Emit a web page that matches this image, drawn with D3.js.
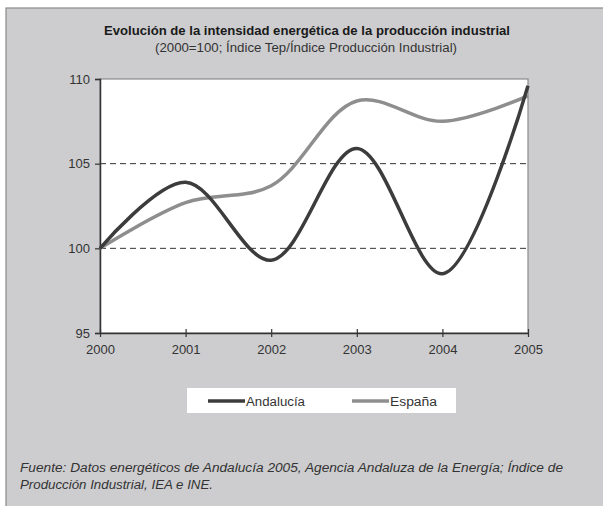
<!DOCTYPE html>
<html>
<head>
<meta charset="utf-8">
<script src="https://cdn.jsdelivr.net/npm/d3@7"></script>
<style>
  body { margin: 0; background: #fff; }
  text { font-family: "Liberation Sans", Arial, sans-serif; }
</style>
</head>
<body>
<script>
// Evolución de la intensidad energética (2000=100)
var years = [2000, 2001, 2002, 2003, 2004, 2005];
var andalucia = [100, 103.9, 99.3, 105.9, 98.5, 109.6];
var espana = [100, 102.7, 103.7, 108.7, 107.5, 109.0];
var yTicks = [95, 100, 105, 110];
var gridValues = [100, 105];

var svgWidth = 603, svgHeight = 506;
var margin = { top: 79, right: 75, bottom: 173, left: 100 };
var width = 528 - margin.left;
var height = 333 - margin.top;

var svg = d3.select("body").append("svg")
  .attr("width", svgWidth)
  .attr("height", svgHeight);

// grey panel
svg.append("rect")
  .attr("x", 6).attr("y", 8)
  .attr("width", svgWidth).attr("height", svgHeight)
  .attr("fill", "#cdcdcf")
  .attr("stroke", "#8a8a8a")
  .attr("stroke-width", 1.2);

svg.append("text")
  .attr("x", 307).attr("y", 35)
  .attr("text-anchor", "middle")
  .style("font-size", "12.5px").style("font-weight", "bold")
  .attr("fill", "#1a1a1a")
  .attr("textLength", 406).attr("lengthAdjust", "spacingAndGlyphs")
  .text("Evolución de la intensidad energética de la producción industrial");

svg.append("text")
  .attr("x", 306).attr("y", 52)
  .attr("text-anchor", "middle")
  .style("font-size", "12.5px")
  .attr("fill", "#333")
  .attr("textLength", 302).attr("lengthAdjust", "spacingAndGlyphs")
  .text("(2000=100; Índice Tep/Índice Producción Industrial)");

var chartGroup = svg.append("g")
  .attr("transform", `translate(${margin.left}, ${margin.top})`);

var x = d3.scaleLinear().domain([2000, 2005]).range([0, width]);
var y = d3.scaleLinear().domain([95, 110]).range([height, 0]);

chartGroup.append("rect")
  .attr("width", width).attr("height", height)
  .attr("fill", "#fff")
  .attr("stroke", "#8a8a8a").attr("stroke-width", 1.2);

chartGroup.selectAll(".grid")
  .data(gridValues)
  .enter().append("line")
  .attr("x1", 0).attr("x2", width)
  .attr("y1", d => y(d)).attr("y2", d => y(d))
  .attr("stroke", "#333").attr("stroke-width", 1)
  .attr("stroke-dasharray", "6,4");

var leftAxis = d3.axisLeft(y).tickValues(yTicks).tickSize(5).tickPadding(5);
var bottomAxis = d3.axisBottom(x).tickValues(years).tickFormat(d3.format("d"))
  .tickSizeInner(4).tickSizeOuter(0).tickPadding(6);

var gy = chartGroup.append("g").call(leftAxis);
var gx = chartGroup.append("g").attr("transform", `translate(0, ${height})`).call(bottomAxis);

[gx, gy].forEach(function(g) {
  g.select(".domain").attr("stroke", "#333").attr("stroke-width", 1.5);
  g.selectAll(".tick line").attr("stroke", "#333").attr("stroke-width", 1.2);
  g.selectAll(".tick text").style("font-size", "13px").attr("fill", "#333")
    .style("font-family", "'Liberation Sans Narrow', 'Liberation Sans', Arial, sans-serif");
});
// cross ticks on x axis
gx.selectAll(".tick line").attr("y1", -4);
gx.selectAll(".tick text").attr("dy", "0.85em");

var line = d3.line()
  .x((d, i) => x(years[i]))
  .y(d => y(d))
  .curve(d3.curveCatmullRom.alpha(0.5));

chartGroup.append("path")
  .datum(espana)
  .attr("fill", "none")
  .attr("stroke", "#8e8e8e")
  .attr("stroke-width", 3.5)
  .attr("d", line);

chartGroup.append("path")
  .datum(andalucia)
  .attr("fill", "none")
  .attr("stroke", "#3c3c3c")
  .attr("stroke-width", 3.5)
  .attr("d", line);

// legend
var legend = svg.append("g");
legend.append("rect")
  .attr("x", 187).attr("y", 388)
  .attr("width", 269).attr("height", 25)
  .attr("fill", "#fff");

var legendItems = [
  { name: "Andalucía", color: "#3c3c3c", x: 208, w: 59 },
  { name: "España", color: "#8e8e8e", x: 352, w: 47 }
];
legendItems.forEach(function(item) {
  legend.append("line")
    .attr("x1", item.x).attr("x2", item.x + 37)
    .attr("y1", 401).attr("y2", 401)
    .attr("stroke", item.color).attr("stroke-width", 3.5);
  legend.append("text")
    .attr("x", item.x + 38).attr("y", 405.5)
    .style("font-size", "12.5px").attr("fill", "#333")
    .attr("textLength", item.w).attr("lengthAdjust", "spacingAndGlyphs")
    .text(item.name);
});

svg.append("text")
  .attr("x", 20).attr("y", 471.5)
  .style("font-size", "12.5px").style("font-style", "italic")
  .attr("fill", "#333")
  .attr("textLength", 543).attr("lengthAdjust", "spacingAndGlyphs")
  .text("Fuente: Datos energéticos de Andalucía 2005, Agencia Andaluza de la Energía; Índice de");
svg.append("text")
  .attr("x", 20).attr("y", 488.5)
  .style("font-size", "12.5px").style("font-style", "italic")
  .attr("fill", "#333")
  .attr("textLength", 193).attr("lengthAdjust", "spacingAndGlyphs")
  .text("Producción Industrial, IEA e INE.");
</script>
</body>
</html>
